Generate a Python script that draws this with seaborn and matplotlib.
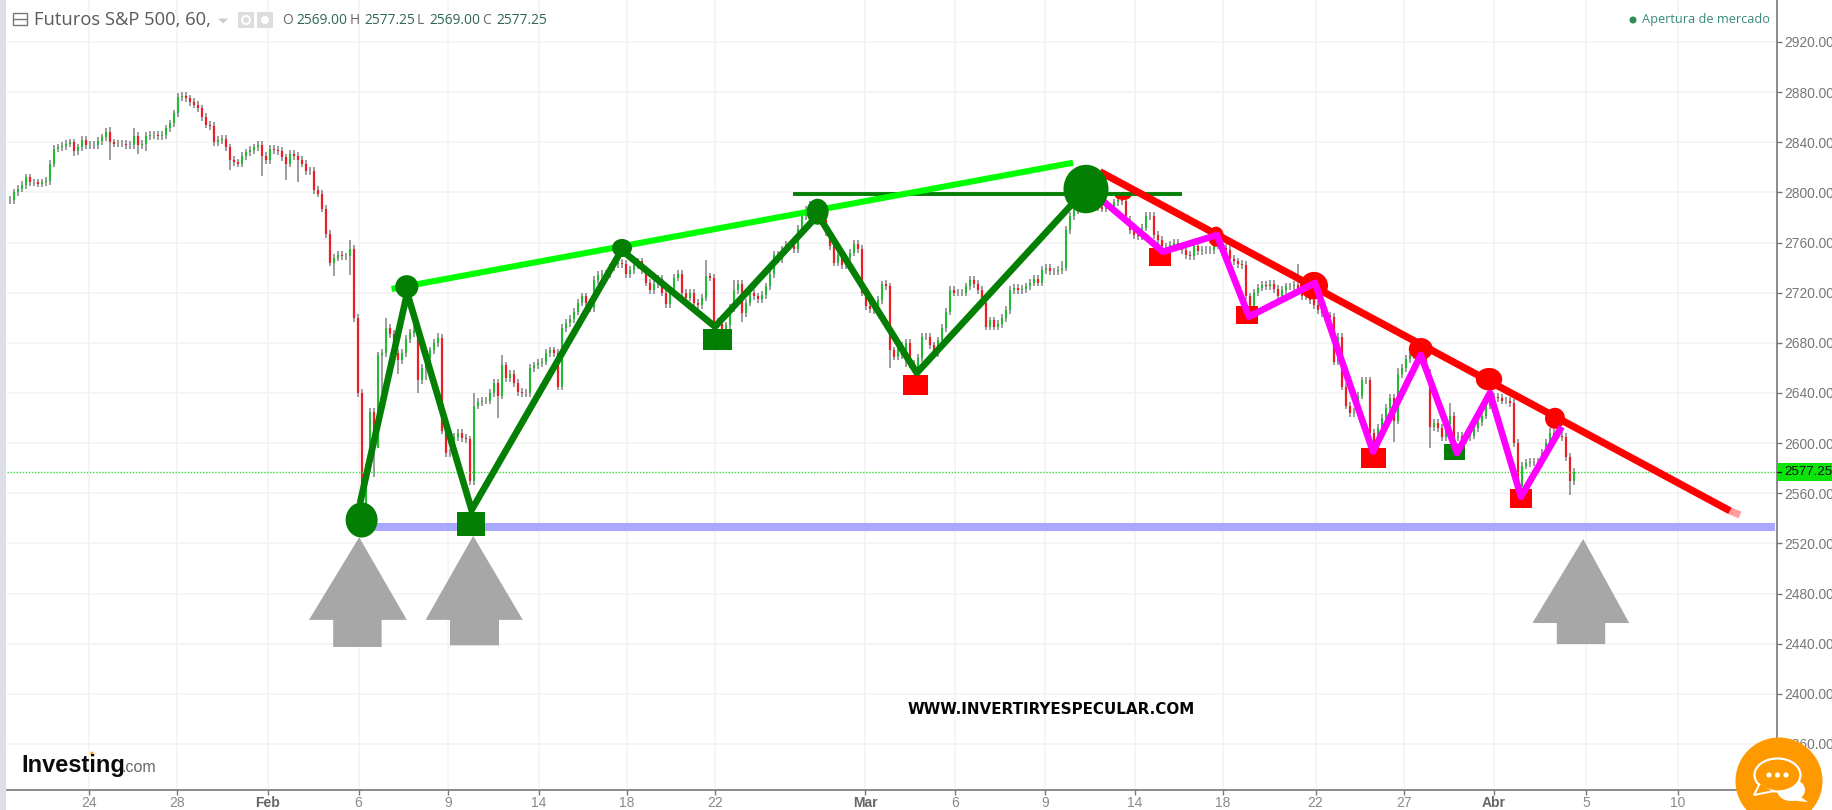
import numpy as np
import pandas as pd
import matplotlib
matplotlib.use("Agg")
import matplotlib.pyplot as plt
from matplotlib.patches import Ellipse, Rectangle, Polygon, Circle
import seaborn as sns

# ---------- price data (one bar per step) ----------
close = [
 2794,2800,2803,2806,2812,2808,2808,2807,2808,2809,2823,2835,2836,2837,2839,2840,2833,2836,2842,2838,
 2838,2838,2841,2844,2848,2840,2839,2839,2839,2838,2838,2845,2838,2839,2845,2846,2846,2845,2846,2851,
 2855,2863,2876,2877,2875,2872,2870,2867,2860,2854,2853,2840,2842,2843,2836,2826,2824,2823,2829,2832,
 2834,2836,2838,2829,2826,2835,2834,2833,2828,2823,2831,2829,2826,2823,2817,2817,2802,2799,2787,2767,
 2744,2748,2750,2749,2749,2755,2700,2640,2545,2580,2625,2596,2670,2672,2692,2687,2672,2666,2672,2683,
 2688,2690,2650,2660,2668,2674,2680,2684,2610,2592,2592,2605,2608,2604,2603,2570,2630,2633,2634,2634,
 2640,2648,2638,2662,2652,2655,2648,2641,2640,2640,2660,2662,2664,2665,2672,2674,2672,2645,2692,2696,
 2699,2705,2712,2717,2712,2708,2730,2734,2735,2735,2740,2743,2744,2743,2735,2738,2742,2745,2738,2728,
 2722,2727,2731,2720,2711,2722,2732,2735,2720,2716,2720,2712,2710,2716,2733,2732,2697,2695,2690,2694,
 2708,2722,2727,2704,2712,2720,2717,2715,2718,2725,2735,2750,2747,2754,2758,2757,2755,2771,2781,2786,
 2790,2789,2786,2778,2768,2757,2744,2750,2742,2748,2752,2759,2755,2720,2709,2707,2706,2714,2727,2725,
 2674,2669,2678,2670,2680,2663,2660,2668,2685,2685,2678,2672,2682,2692,2705,2722,2720,2720,2720,2725,
 2730,2727,2722,2712,2693,2698,2693,2695,2700,2706,2722,2724,2722,2723,2725,2728,2731,2728,2738,2740,
 2737,2737,2738,2740,2770,2781,2786,2790,2796,2798,2796,2788,2788,2787,2788,2788,2792,2794,2793,2778,
 2770,2766,2765,2772,2781,2781,2766,2762,2757,2757,2758,2760,2757,2754,2750,2749,2757,2753,2754,2754,
 2754,2758,2759,2756,2754,2747,2745,2743,2742,2717,2706,2720,2724,2726,2725,2727,2723,2717,2722,2725,
 2725,2726,2722,2717,2718,2714,2710,2706,2704,2702,2701,2665,2685,2645,2630,2624,2625,2638,2650,2650,
 2608,2592,2612,2620,2628,2636,2618,2655,2660,2667,2670,2672,2674,2668,2656,2613,2616,2612,2605,2615,
 2622,2605,2606,2602,2605,2606,2612,2617,2622,2630,2637,2637,2636,2634,2634,2632,2600,2565,2582,2584,
 2585,2585,2584,2592,2600,2608,2606,2606,2605,2589,2570,2577.25,
]
high_bars = [25,31,85,94,101,107,116,123,174,181,218,219,263,277,322,347,360,385]
high_vals = [2852,2851,2762,2700,2695,2688,2640,2670,2746,2730,2729,2730,2745,2797,2743,2660,2632,2612]
low_bars = [16,25,32,34,55,63,69,72,81,85,91,92,93,97,102,104,122,183,220,224,233,346,355,361,378,390]
low_vals = [2829,2826,2831,2833,2818,2813,2810,2808,2733,2734,2573,2600,2640,2655,2640,2650,2620,2697,2660,2661,2680,2601,2596,2596,2575,2559]
last_price = 2577.25

# ---------- drawn analysis lines ----------
zigzag_bar = [87.5,99.3,115.4,152.9,176.25,202,226.7,269]
zigzag_val = [2552,2719.8,2546.7,2754,2692.9,2782,2656,2802.7]
magenta_bar = [270,288.25,301.75,309.75,326.25,340.75,352.7,361.75,370,377.75,387.9]
magenta_val = [2802,2752.7,2766,2700.9,2727.8,2593.2,2670.3,2592.1,2640,2557.3,2613.1]
lime_bar, lime_val = [95.4,265.75], [2723,2823.7]
hline_bar, hline_val = [195.75,292.9], [2798.5,2798.5]
red_bar, red_val = [272.5,430], [2816.5,2546]
pink_bar, pink_val = [430,432.5], [2546,2542.7]
blue_bar, blue_val = [90,441.25], [2533.1,2533.1]

green_dot_bar = [87.9,99.2,153,201.9,269]
green_dot_val = [2538.7,2724.8,2755.7,2784.6,2802.7]
green_dot_w = [8,5.8,5,5.5,11.25]
green_dot_h = [28,18.4,14.4,20.7,38.7]
red_dot_bar = [278.25,301.5,326,352.7,369.75,386.25]
red_dot_val = [2797.2,2764.7,2725.6,2675.1,2651,2619.8]
red_dot_w = [4,4,7,6,6.6,5]
red_dot_h = [6.4,16,22,17.5,18,16.8]
green_sq_bar = [115.25,176.9,361.25]
green_sq_val = [2535.5,2682.6,2592.7]
green_sq_w = [7.15,7.1,5.25]
green_sq_h = [18.7,16.5,12.8]
red_sq_bar = [226.45,287.5,309.25,340.8,377.75]
red_sq_val = [2646.3,2748.4,2702.3,2588.2,2555.6]
red_sq_w = [6.25,5.65,5.65,6.2,5.7]
red_sq_h = [15.7,14.1,14.6,16.4,15.2]

arrow_tip_bar = [87.3,115.8,393.3]
arrow_tip_val = [2524.9,2526,2523.5]
arrow_left = [74.75,103.9,380.6]
arrow_right = [99.2,128.2,404.8]
arrow_stem_l = [80.8,110,386.7]
arrow_stem_r = [92.9,122.25,398.8]
arrow_shoulder = [2459,2459,2456.5]
arrow_bottom = [2437.4,2438.7,2439.7]

# ---------- axes labels ----------
x_ticks = [19.75,41.75,64.5,87.15,109.6,132.25,154.25,176.25,213.75,236.25,258.75,281.25,303.25,326.4,348.5,370.9,394,417]
x_labels = ["24","28","Feb","6","9","14","18","22","Mar","6","9","14","18","22","27","Abr","5","10"]
y_ticks = [2360,2400,2440,2480,2520,2560,2600,2640,2680,2720,2760,2800,2840,2880,2920]

sns.set_theme(style="white")
W, H = 1833, 810
fig = plt.figure(figsize=(W/100, H/100), dpi=100, facecolor="white")
ax = fig.add_axes([7/W, (H-790)/H, (1777-7)/W, 790/H])
ax.set_xlim(-0.75, 441.75)
ax.set_ylim(2323.3, 2953.5)
ax.set_facecolor("white")

# grid
GRID = "#f3f3f5"
for v in y_ticks:
    ax.axhline(v, color=GRID, lw=1.1, zorder=0)
for v in x_ticks:
    ax.axvline(v, color=GRID, lw=1.1, zorder=0)

# candles
c = np.array(close, dtype=float)
o = np.r_[c[0], c[:-1]]
bars = np.arange(len(c))
hi = np.maximum(o, c) + 3
lo = np.minimum(o, c) - 3
hi[high_bars] = high_vals
lo[low_bars] = low_vals
ax.vlines(bars, lo, hi, color="#6a6a6a", lw=1.15, alpha=0.8, zorder=1)
up = c >= o
ax.vlines(bars[up], o[up], c[up], color="#22bb33", lw=1.5, zorder=2)
ax.vlines(bars[~up], o[~up], c[~up], color="#ee1c25", lw=1.6, zorder=2)

# last price
ax.axhline(last_price, color="#33dd33", lw=1.0, ls=(0, (1, 1.2)), zorder=2.2)


def trace(xs, ys, color, lw, zorder, alpha=1.0):
    d = pd.DataFrame({"bar": xs, "price": ys})
    sns.lineplot(data=d, x="bar", y="price", color=color, lw=lw, ax=ax, sort=False,
                 estimator=None, zorder=zorder, alpha=alpha, solid_capstyle="butt", legend=False)


trace(blue_bar, blue_val, "#a8a8ff", 5.8, 3)
trace(hline_bar, hline_val, "#037f03", 2.8, 4)
trace(lime_bar, lime_val, "#00ff00", 4.4, 4)
trace(red_bar, red_val, "#ff0000", 5.2, 4.2)
trace(pink_bar, pink_val, "#ff9c9c", 5.2, 4.1)
trace(zigzag_bar, zigzag_val, "#037f03", 4.8, 5.5)
trace(magenta_bar, magenta_val, "#ff00ff", 4.8, 6)

for xv, yv, w, h in zip(red_dot_bar, red_dot_val, red_dot_w, red_dot_h):
    ax.add_patch(Ellipse((xv, yv), w, h, color="#ff0000", lw=0, zorder=3.8 if xv < 280 else 5))
for xv, yv, w, h in zip(green_dot_bar, green_dot_val, green_dot_w, green_dot_h):
    ax.add_patch(Ellipse((xv, yv), w, h, color="#037f03", lw=0, zorder=7))
for xv, yv, w, h in zip(green_sq_bar, green_sq_val, green_sq_w, green_sq_h):
    ax.add_patch(Rectangle((xv-w/2, yv-h/2), w, h, color="#037f03", lw=0, zorder=5))
for xv, yv, w, h in zip(red_sq_bar, red_sq_val, red_sq_w, red_sq_h):
    ax.add_patch(Rectangle((xv-w/2, yv-h/2), w, h, color="#ff0000", lw=0, zorder=5))

for i in range(3):
    pts = [(arrow_tip_bar[i], arrow_tip_val[i]), (arrow_right[i], arrow_shoulder[i]),
           (arrow_stem_r[i], arrow_shoulder[i]), (arrow_stem_r[i], arrow_bottom[i]),
           (arrow_stem_l[i], arrow_bottom[i]), (arrow_stem_l[i], arrow_shoulder[i]),
           (arrow_left[i], arrow_shoulder[i])]
    ax.add_patch(Polygon(pts, closed=True, color="#a2a2a2", alpha=0.95, lw=0, zorder=3))

# axes cosmetics
ax.set_xlabel("")
ax.set_ylabel("")
ax.yaxis.tick_right()
ax.set_yticks(y_ticks)
ax.set_yticklabels([f"{v:.2f}" for v in y_ticks], fontfamily="Liberation Sans", fontsize=9.9, color="#777777")
ax.set_xticks(x_ticks)
ax.set_xticklabels(x_labels, fontfamily="Liberation Sans", fontsize=10, color="#8a8a8a")
for t in ax.get_xticklabels():
    if t.get_text() in ("Feb", "Mar", "Abr"):
        t.set_fontweight("bold")
        t.set_color("#666666")
ax.tick_params(axis="x", length=3.5, width=1, color="#777777", pad=1, bottom=True)
ax.tick_params(axis="y", length=3.5, width=1, color="#777777", pad=1.5, right=True, left=False)
for s in ("top", "left"):
    ax.spines[s].set_visible(False)
for s in ("right", "bottom"):
    ax.spines[s].set_color("#777777")
    ax.spines[s].set_linewidth(1.2)

# ---------- page furniture, in pixel space ----------
ov = fig.add_axes([0, 0, 1, 1], zorder=10)
ov.set_xlim(0, W)
ov.set_ylim(H, 0)
ov.axis("off")
ov.patch.set_alpha(0)

ov.add_patch(Rectangle((0, 0), 6.5, H, color="#dcdee8", lw=0))
ov.add_patch(Rectangle((13.5, 13), 14, 12, fill=False, ec="#777777", lw=1))
ov.plot([13.5, 27.5], [19, 19], color="#777777", lw=1)
ov.text(34, 20, "Futuros S&P 500, 60,", fontfamily="Open Sans", fontsize=13.2, color="#5a5a5a", va="center")
ov.add_patch(Polygon([(218, 18.5), (228, 18.5), (223, 23.5)], color="#cccccc", lw=0))
ov.add_patch(Rectangle((238, 12), 16, 16, color="#dddddd", lw=0))
ov.add_patch(Rectangle((257, 12), 16, 16, color="#dddddd", lw=0))
ov.add_patch(Circle((246, 20), 4, fill=False, ec="white", lw=1.5))
ov.add_patch(Circle((265, 20), 4, color="white", lw=0))

ohlc_lab_x = [282, 349.4, 417.1, 482.2]
ohlc_val_x = [296.6, 364.3, 429.4, 496.7]
ohlc_lab = ["O", "H", "L", "C"]
ohlc_val = ["2569.00", "2577.25", "2569.00", "2577.25"]
for a, b, l, v in zip(ohlc_lab_x, ohlc_val_x, ohlc_lab, ohlc_val):
    ov.text(a, 20.5, l, fontfamily="Open Sans", fontsize=9.9, color="#6a6a6a", va="center")
    ov.text(b, 20.5, v, fontfamily="Open Sans", fontsize=9.9, color="#2f6657", va="center")

ov.add_patch(Circle((1633, 20), 3.5, color="#2e8b57", lw=0))
ov.text(1642, 19.5, "Apertura de mercado", fontfamily="Open Sans", fontsize=9.2, color="#35897a", va="center")

# price tag
ov.add_patch(Rectangle((1777, 463), 56, 18, color="#0be30b", lw=0))
ov.plot([1777, 1781], [472, 472], color="#222222", lw=1)
ov.text(1784, 472, "2577.25", fontfamily="Liberation Sans", fontsize=9.6, color="#111111", va="center")

# logo
ov.text(21, 772, "Investing", fontfamily="Liberation Sans", fontweight="bold", fontsize=17, color="#0c0c0c", va="baseline")
ov.text(122, 772, ".com", fontfamily="Liberation Sans", fontsize=11.5, color="#666666", va="baseline")
ov.add_patch(Ellipse((92, 754), 3, 5, color="#ff9900", lw=0))

# watermark
ov.text(908, 710, "WWW.INVERTIRYESPECULAR.COM", fontfamily="DejaVu Sans", fontweight="bold", fontsize=10.9,
        color="#050505", va="center")

# chat bubble
ov.add_patch(Ellipse((1779, 781), 87, 87, color="#ff9900", lw=0))
ov.add_patch(Ellipse((1791, 790), 28, 22, color="white", lw=0))
ov.add_patch(Polygon([(1798, 795), (1808, 802), (1788, 800)], color="white", lw=0))
ov.add_patch(Ellipse((1777.5, 775), 46, 33, fc="#ff9900", ec="white", lw=1.6))
ov.add_patch(Polygon([(1760, 783), (1754, 795), (1774, 791)], fc="#ff9900", ec="white", lw=1.4))
ov.add_patch(Ellipse((1777.5, 775), 43, 30, fc="#ff9900", lw=0))
for dx in (1769, 1777.5, 1786):
    ov.add_patch(Circle((dx, 775), 2.6, color="white", lw=0))

fig.savefig("out.png", dpi=100, facecolor="white")
